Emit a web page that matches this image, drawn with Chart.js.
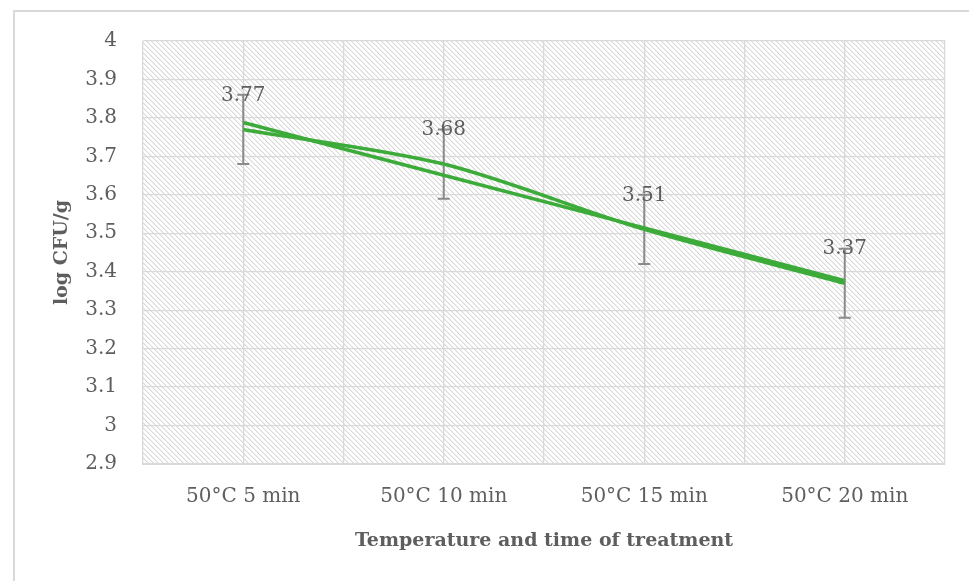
<!DOCTYPE html>
<html>
<head>
<meta charset="utf-8">
<script src="https://cdn.jsdelivr.net/npm/chart.js@4/dist/chart.umd.min.js"></script>
<style>
  html, body { margin: 0; padding: 0; background: #ffffff; }
  #wrap { width: 969px; height: 581px; position: relative; }
</style>
</head>
<body>
<div id="wrap"><canvas id="c" width="969" height="581"></canvas></div>
<script>
// ---- data ----
const categories = ['50°C 5 min', '50°C 10 min', '50°C 15 min', '50°C 20 min'];
const means = [3.77, 3.68, 3.51, 3.37];
const errors = [0.09, 0.09, 0.09, 0.09];
const trend = [3.788, 3.651, 3.514, 3.377];
const yTicks = [2.9, 3, 3.1, 3.2, 3.3, 3.4, 3.5, 3.6, 3.7, 3.8, 3.9, 4];

const FONT = "'DejaVu Serif', 'Liberation Serif', serif";
const TEXT = '#5e5e5e';
const GRID = '#d9d9d9';
const GREEN = '#3dab3a';

function makeHatch() {
  const n = 5;
  const c = document.createElement('canvas');
  c.width = n; c.height = n;
  const g = c.getContext('2d');
  g.fillStyle = '#ffffff';
  g.fillRect(0, 0, n, n);
  for (let i = 0; i < n; i++) {
    g.fillStyle = '#d8d8d8';
    g.fillRect(i, i, 1, 1);
    g.fillStyle = '#efefef';
    g.fillRect((i + 1) % n, i, 1, 1);
  }
  return c;
}

const backgroundPlugin = {
  id: 'bg',
  beforeDraw(chart) {
    const ctx = chart.ctx;
    const a = chart.chartArea;
    ctx.save();
    // outer frame
    ctx.fillStyle = GRID;
    ctx.fillRect(13, 10, 2, 571);
    ctx.fillRect(13, 10, 956, 2);
    // hatched plot area
    const pat = ctx.createPattern(makeHatch(), 'repeat');
    ctx.fillStyle = pat;
    ctx.fillRect(a.left, a.top, a.right - a.left, a.bottom - a.top);
    ctx.restore();
  }
};

const errorBarPlugin = {
  id: 'errbars',
  beforeDatasetsDraw(chart) {
    const ctx = chart.ctx;
    const xs = chart.scales.x, ys = chart.scales.y;
    ctx.save();
    ctx.strokeStyle = '#8a8a8a';
    ctx.lineWidth = 2;
    means.forEach((m, i) => {
      const x = xs.getPixelForValue(i + 1);
      const yt = ys.getPixelForValue(m + errors[i]);
      const yb = ys.getPixelForValue(m - errors[i]);
      ctx.beginPath();
      ctx.moveTo(x, yt); ctx.lineTo(x, yb);
      ctx.moveTo(x - 6, yt); ctx.lineTo(x + 6, yt);
      ctx.moveTo(x - 6, yb); ctx.lineTo(x + 6, yb);
      ctx.stroke();
    });
    ctx.restore();
  }
};

const labelPlugin = {
  id: 'datalabels',
  afterDatasetsDraw(chart) {
    const ctx = chart.ctx;
    const xs = chart.scales.x, ys = chart.scales.y;
    ctx.save();
    ctx.fillStyle = TEXT;
    ctx.font = '20px ' + FONT;
    ctx.textAlign = 'center';
    ctx.textBaseline = 'middle';
    means.forEach((m, i) => {
      const x = xs.getPixelForValue(i + 1);
      const y = ys.getPixelForValue(m);
      ctx.fillText(m.toFixed(2), x, y - 34);
    });
    ctx.restore();
  }
};

new Chart(document.getElementById('c'), {
  type: 'line',
  data: {
    datasets: [
      {
        label: 'log CFU/g',
        data: means.map((v, i) => ({ x: i + 1, y: v })),
        borderColor: GREEN,
        borderWidth: 3.5,
        tension: 0.3,
        pointRadius: 0,
        fill: false
      },
      {
        label: 'Linear trend',
        data: trend.map((v, i) => ({ x: i + 1, y: v })),
        borderColor: GREEN,
        borderWidth: 3.5,
        tension: 0,
        pointRadius: 0,
        fill: false
      }
    ]
  },
  options: {
    responsive: false,
    devicePixelRatio: 1,
    animation: false,
    layout: { padding: { top: 41, right: 24, left: 0, bottom: 0 } },
    plugins: { legend: { display: false }, tooltip: { enabled: false } },
    scales: {
      x: {
        type: 'linear',
        min: 0.5,
        max: 4.5,
        afterFit(s) { s.height = 117; },
        grid: { color: GRID, lineWidth: 1.3, drawTicks: false },
        border: { color: GRID, width: 2 },
        ticks: {
          stepSize: 0.5,
          autoSkip: false,
          maxRotation: 0,
          padding: 21,
          color: TEXT,
          font: { family: FONT, size: 20 },
          callback: (v) => Number.isInteger(v) ? categories[v - 1] : ''
        },
        title: {
          display: true,
          text: 'Temperature and time of treatment',
          color: TEXT,
          font: { family: FONT, size: 19, weight: 'bold' },
          padding: { top: 0, bottom: 29 }
        }
      },
      y: {
        min: yTicks[0],
        max: yTicks[yTicks.length - 1],
        afterFit(s) { s.width = 143; },
        afterBuildTicks(s) { s.ticks = yTicks.map(v => ({ value: v })); },
        grid: { color: GRID, lineWidth: 1.3, drawTicks: false },
        border: { display: false },
        ticks: {
          padding: 26,
          color: TEXT,
          font: { family: FONT, size: 20 },
          callback: (v) => String(Number(v.toFixed(1)))
        },
        title: {
          display: true,
          text: 'log CFU/g',
          color: TEXT,
          font: { family: FONT, size: 19, weight: 'bold' },
          padding: { top: 51, bottom: 0 }
        }
      }
    }
  },
  plugins: [backgroundPlugin, errorBarPlugin, labelPlugin]
});
</script>
</body>
</html>
